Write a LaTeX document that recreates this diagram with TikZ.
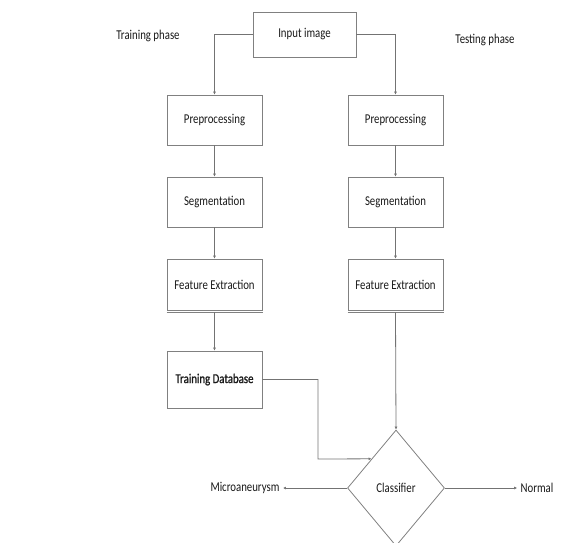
\documentclass[tikz,border=0pt]{standalone}
\usepackage{fontspec}
\setmainfont{Carlito}[FakeStretch=0.8]
\newfontfamily\heavyfont{Carlito}[FakeStretch=0.8, FakeBold=1.2]
\usetikzlibrary{shapes.geometric,positioning,arrows.meta}

\begin{document}
\begin{tikzpicture}[x=1pt, y=-1pt, font=\fontsize{13.5}{15}\selectfont, text=black!90,
  box/.style={rectangle, draw=black!50, line width=0.8pt, minimum height=50pt, minimum width=95pt},
  link/.style={draw=black!55, line width=0.8pt, -{Latex[length=3pt, width=3pt]}}]
  \useasboundingbox (0,0) rectangle (587,542);
  % Nodes
  \node (in) [box, minimum height=45pt, minimum width=103pt] at (304.5, 34.5) {Input image};
  \node (train) at (148, 36) {Training phase};
  \node (test) at (485, 40) {Testing phase};
  \node (pre-l) [box] at (214.5, 120) {Preprocessing};
  \node (pre-r) [box] at (395.5, 120) {Preprocessing};
  \node (seg-l) [box] at (214.5, 202) {Segmentation};
  \node (seg-r) [box] at (395.5, 202) {Segmentation};
  \node (feat-l) [box, minimum height=51pt] at (214.5, 284.5) {Feature Extraction};
  \node (feat-r) [box, minimum height=51pt] at (395.5, 284.5) {Feature Extraction};
  \node (db) [box, minimum height=57pt, font=\heavyfont\fontsize{13.5}{15}\selectfont] at (214.5, 379.5) {Training Database};
  \node (cls) [diamond, draw=black!50, line width=0.8pt, minimum width=97pt, minimum height=116pt] at (396, 488) {Classifier};
  \node (micro) at (245, 488) {Microaneurysm};
  \node (normal) at (537, 488) {Normal};
  \coordinate (db-turn) at (318, 459);
  % Shadow lines
  \draw[black!50, line width=0.8pt] ([yshift=-2pt]feat-l.south west) -- ([yshift=-2pt, xshift=1pt]feat-l.south east);
  \draw[black!50, line width=0.8pt] ([yshift=-2pt]feat-r.south west) -- ([yshift=-2pt, xshift=1pt]feat-r.south east);
  % Arrow
  \draw[link] (in.west) -| (pre-l.north);
  \draw[link] (in.east) -| (pre-r.north);
  \draw[link] (pre-l) -- (seg-l);
  \draw[link] (pre-r) -- (seg-r);
  \draw[link] (seg-l) -- (feat-l);
  \draw[link] (seg-r) -- (feat-r);
  \draw[link] ([yshift=-2pt]feat-l.south) -- (db);
  \draw[link] ([yshift=-2pt]feat-r.south) -- (cls.north);
  \draw[link] (db.east) -| (db-turn) -- (cls.north west);
  \draw[link] (cls.west) -- (micro.east);
  \draw[link] (cls.east) -- (normal.west);
\end{tikzpicture}
\end{document}
